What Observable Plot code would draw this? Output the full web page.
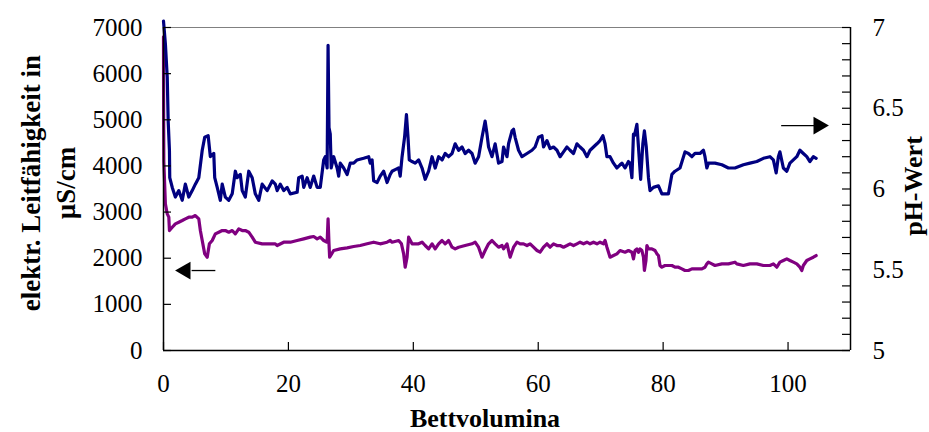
<!DOCTYPE html>
<html><head><meta charset="utf-8">
<script src="https://cdn.jsdelivr.net/npm/d3@7"></script>
<script src="https://cdn.jsdelivr.net/npm/@observablehq/plot@0.6"></script>
<style>body{margin:0;background:#fff}</style>
</head><body><div id="chart"></div>
<script>
// pH series (right axis): Bettvolumina / pH
const bvPH = [0.0,0.3,0.6,0.75,0.95,1.0,1.4,1.9,2.45,3.0,3.5,4.05,4.6,5.1,5.65,6.2,6.6,7.15,7.5,8.05,8.2,8.6,9.1,9.4,9.9,10.45,11.0,11.5,11.8,12.3,12.6,13.1,13.65,14.2,14.7,15.25,15.8,16.6,17.4,17.9,18.2,18.7,19.25,19.8,20.3,21.4,21.65,22.2,22.45,23.0,23.5,24.05,24.6,25.1,25.65,25.9,26.2,26.35,26.5,26.7,26.85,27.25,27.8,28.05,28.3,28.85,29.4,29.9,30.45,31.0,32.05,32.85,33.1,33.4,33.65,34.2,34.7,35.25,35.8,36.3,36.6,37.1,37.65,37.9,38.2,38.6,38.9,39.15,39.35,39.8,40.3,40.85,41.4,41.9,42.45,43.0,43.5,44.05,44.6,45.1,45.65,46.2,46.7,47.25,47.8,48.3,48.85,49.4,49.9,50.45,51.0,51.5,51.8,52.05,52.6,53.1,53.65,54.2,54.45,55.0,55.25,55.8,56.05,56.3,56.85,57.4,58.2,59.0,59.5,60.05,60.6,60.85,61.4,61.9,62.45,63.0,63.5,64.05,64.6,65.1,65.65,66.2,66.7,67.25,67.8,68.3,68.85,69.4,69.9,70.35,70.7,71.0,71.5,72.05,72.6,73.1,73.4,73.9,74.45,74.7,75.0,75.25,75.4,75.8,76.05,76.4,76.75,77.0,77.3,77.65,77.9,78.45,79.25,79.8,80.85,81.4,81.9,82.7,83.5,84.05,84.6,85.1,85.9,86.45,86.7,87.0,87.25,88.3,89.4,90.45,91.5,92.85,93.9,95.0,96.05,97.1,97.65,98.1,98.45,98.7,99.25,99.8,100.3,100.85,101.4,101.9,102.45,103.0,103.5,104.05,104.5];
const pH = [7.04,6.90,6.69,6.42,6.24,6.07,6.01,5.95,5.99,5.93,6.03,5.95,5.99,6.03,6.07,6.24,6.32,6.33,6.20,6.22,6.07,6.01,5.93,6.03,5.95,5.93,5.97,6.11,6.07,6.09,5.99,5.95,6.11,6.07,5.97,5.93,6.03,5.99,6.05,6.03,5.99,6.03,5.99,6.01,5.97,5.98,6.07,6.08,6.01,6.07,6.01,6.08,6.01,6.01,6.18,6.20,6.13,6.89,6.38,6.34,6.13,6.20,6.13,6.08,6.16,6.13,6.09,6.16,6.16,6.18,6.19,6.20,6.16,6.18,6.05,6.04,6.08,6.11,6.04,6.09,6.11,6.12,6.13,6.08,6.20,6.32,6.46,6.32,6.18,6.17,6.16,6.18,6.13,6.06,6.11,6.20,6.13,6.20,6.18,6.22,6.20,6.22,6.28,6.24,6.26,6.22,6.24,6.22,6.16,6.20,6.32,6.42,6.34,6.26,6.20,6.28,6.16,6.17,6.26,6.20,6.28,6.36,6.37,6.32,6.24,6.20,6.22,6.24,6.26,6.32,6.33,6.26,6.30,6.25,6.26,6.24,6.20,6.23,6.26,6.24,6.22,6.28,6.26,6.24,6.20,6.24,6.26,6.28,6.30,6.33,6.28,6.20,6.20,6.16,6.13,6.15,6.16,6.13,6.17,6.16,6.07,6.34,6.33,6.40,6.26,6.06,6.28,6.36,6.26,6.07,5.99,6.01,6.02,5.97,5.97,6.09,6.11,6.13,6.23,6.22,6.20,6.22,6.22,6.24,6.20,6.13,6.16,6.16,6.15,6.13,6.13,6.15,6.16,6.17,6.19,6.20,6.18,6.10,6.20,6.23,6.13,6.11,6.16,6.18,6.20,6.24,6.22,6.20,6.17,6.20,6.19];

// conductivity series (left axis): Bettvolumina / µS/cm
const bvLF = [0.0,0.02,0.05,0.3,0.6,0.85,0.95,1.4,1.9,2.45,3.0,3.5,4.05,4.6,5.1,5.65,5.9,6.2,6.6,7.0,7.35,7.8,8.3,8.85,9.4,9.9,10.45,11.0,11.5,12.05,12.6,13.1,13.65,14.2,14.7,15.8,16.85,17.9,18.2,19.25,20.3,21.4,22.45,23.5,24.05,24.6,25.1,25.65,26.2,26.35,26.5,26.6,27.25,28.3,29.4,30.45,31.5,32.6,33.65,34.7,35.8,36.3,36.6,37.65,38.1,38.45,38.7,39.0,39.25,39.8,40.3,40.85,41.4,41.9,42.45,43.0,43.5,44.05,44.6,45.1,45.65,46.2,46.7,47.25,48.3,49.4,49.9,50.45,51.0,51.5,52.05,52.6,53.1,53.65,54.2,54.45,55.0,55.5,56.05,56.6,57.1,57.65,58.2,58.7,59.25,59.8,60.3,60.85,61.4,61.9,62.45,63.0,63.5,64.05,64.6,65.1,65.65,66.2,66.7,67.25,67.8,68.3,68.85,69.4,69.9,70.45,70.7,71.0,71.5,72.05,72.6,73.1,73.9,74.45,75.0,75.25,75.5,75.8,76.05,76.3,76.6,76.85,77.0,77.25,77.4,77.65,78.2,78.7,79.0,79.25,79.5,79.8,80.3,80.85,81.4,81.9,82.45,83.0,83.5,84.05,84.6,85.1,85.65,86.2,86.7,87.0,87.25,87.8,88.3,89.4,90.45,91.5,91.8,92.85,93.9,95.0,96.05,97.1,97.65,98.2,98.7,99.25,99.8,100.3,100.85,101.4,101.9,102.2,102.45,103.0,103.5,104.05,104.5];
const lf = [6800,5200,4100,3180,2960,2890,2600,2670,2745,2780,2817,2853,2889,2889,2925,2853,2600,2384,2095,2022,2312,2384,2528,2564,2600,2600,2564,2600,2528,2636,2600,2600,2564,2456,2347,2312,2312,2312,2275,2347,2347,2384,2420,2456,2470,2420,2456,2384,2347,2853,2312,2022,2167,2203,2225,2254,2275,2312,2347,2312,2347,2384,2347,2384,2312,2095,1805,2022,2456,2312,2312,2312,2347,2275,2203,2312,2203,2312,2384,2312,2384,2239,2203,2239,2275,2312,2347,2239,2022,2167,2312,2384,2312,2239,2275,2203,2312,2022,2239,2347,2312,2312,2275,2312,2239,2167,2130,2239,2312,2239,2312,2275,2275,2239,2275,2312,2275,2312,2347,2312,2347,2312,2347,2312,2347,2312,2384,2239,2022,2058,2095,2167,2130,2167,2130,1986,2167,2203,2130,2203,2167,2022,1734,1950,2275,2203,2203,2167,2095,2058,1842,1805,1842,1842,1842,1805,1805,1770,1734,1734,1770,1770,1770,1770,1805,1878,1914,1878,1842,1878,1878,1914,1878,1842,1878,1878,1842,1842,1878,1805,1914,1950,1986,1950,1914,1878,1805,1734,1842,1950,1986,2022,2058];

// axes
const lfTicks = [0,1000,2000,3000,4000,5000,6000,7000];
const phTicks = [5,5.5,6,6.5,7];
const phMinor = [5,5.1,5.2,5.3,5.4,5.5,5.6,5.7,5.8,5.9,6,6.1,6.2,6.3,6.4,6.5,6.6,6.7,6.8,6.9,7];
const bvTicks = [0,20,40,60,80,100];
const bvDomain = [0,110];

// annotation arrows (data units)
const arrowLeft = {x1: 8.3, x2: 4.5, head: 3.5, lf: 1733};
const arrowRight = {x1: 98.9, x2: 104.2, head: 104.9, pH: 6.393};

const W = 929, H = 432, mL = 163, mR = 79, mT = 27, mB = 82;
const fw = W - mL - mR, fh = H - mT - mB;
const ph2lf = p => (p - 5) * 3500;
const lf2ph = v => v / 3500 + 5;

const phData = bvPH.map((x, i) => ({x, y: ph2lf(pH[i])}));
const lfData = bvLF.map((x, i) => ({x, y: lf[i]}));

const arrows = [
  {x1: arrowLeft.x1, x2: arrowLeft.x2, hx: arrowLeft.head, y: arrowLeft.lf, rot: -90},
  {x1: arrowRight.x1, x2: arrowRight.x2, hx: arrowRight.head, y: ph2lf(arrowRight.pH), rot: 90}
];

const chart = Plot.plot({
  width: W, height: H,
  marginLeft: mL, marginRight: mR, marginTop: mT, marginBottom: mB,
  x: {domain: bvDomain},
  y: {domain: [0, 7000]},
  style: {fontFamily: "'Liberation Serif', 'Times New Roman', serif", fontSize: "25px", color: "black", background: "white", overflow: "visible"},
  marks: [
    Plot.ruleY([7000], {stroke: "#808080", strokeWidth: 1.2}),
    Plot.line(lfData, {x: "x", y: "y", stroke: "#800080", strokeWidth: 3.2}),
    Plot.line(phData, {x: "x", y: "y", stroke: "#000080", strokeWidth: 3.2}),
    Plot.link(arrows, {x1: "x1", x2: "x2", y1: "y", y2: "y", stroke: "black", strokeWidth: 1.3}),
    Plot.dot(arrows, {x: "hx", y: "y", symbol: "triangle", r: 6.6, fill: "black", stroke: "none", rotate: "rot"}),
    // frame lines
    Plot.ruleX([bvDomain[0]], {stroke: "black", strokeWidth: 1.5}),
    Plot.ruleX([bvDomain[1]], {stroke: "black", strokeWidth: 1.5}),
    Plot.ruleY([0], {stroke: "black", strokeWidth: 1.5}),
    // inward ticks
    Plot.tickY(lfTicks, {y: d => d, insetRight: fw - 8, stroke: "black", strokeWidth: 1.2}),
    Plot.tickY(phMinor, {y: d => ph2lf(d), insetLeft: fw - 8, stroke: "black", strokeWidth: 1.2}),
    Plot.tickX(bvTicks, {x: d => d, insetTop: fh - 8, stroke: "black", strokeWidth: 1.2}),
    // tick labels
    Plot.axisY({anchor: "left", ticks: lfTicks, tickFormat: d => String(d), tickSize: 0, tickPadding: 21, label: null}),
    Plot.axisY({anchor: "right", ticks: phTicks.map(ph2lf), tickFormat: d => String(+lf2ph(d).toFixed(1)), tickSize: 0, tickPadding: 22, label: null}),
    Plot.axisX({anchor: "bottom", ticks: bvTicks, tickFormat: d => String(d), tickSize: 0, tickPadding: 24, label: null}),
    // axis titles
    Plot.text(["elektr. Leitfähigkeit in\nµS/cm"], {text: d => d, frameAnchor: "left", textAnchor: "middle", lineAnchor: "middle", rotate: -90, dx: -117, dy: -6, fontWeight: "bold", fontSize: 27, lineHeight: 1.3}),
    Plot.text(["pH-Wert"], {text: d => d, frameAnchor: "right", textAnchor: "middle", lineAnchor: "middle", rotate: -90, dx: 63, dy: -3, fontWeight: "bold", fontSize: 26}),
    Plot.text(["Bettvolumina"], {text: d => d, frameAnchor: "bottom", textAnchor: "middle", lineAnchor: "middle", dx: -22, dy: 68, fontWeight: "bold", fontSize: 26})
  ]
});
document.getElementById("chart").appendChild(chart);
</script>
</body></html>
